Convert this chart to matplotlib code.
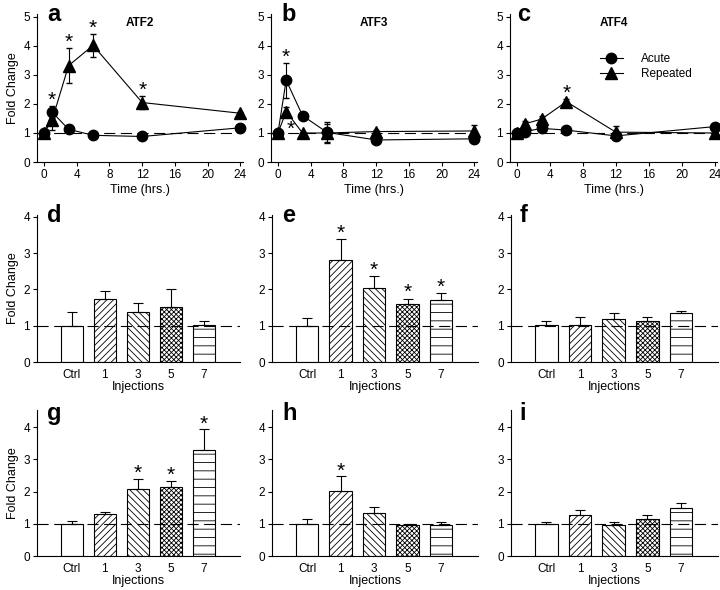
import numpy as np
import matplotlib
matplotlib.use("Agg")
import matplotlib.pyplot as plt
from matplotlib.lines import Line2D

plt.rcParams['font.family'] = ['Liberation Sans', 'DejaVu Sans']
plt.rcParams['hatch.linewidth'] = 0.6

# time course data (top row)
times = [0, 1, 3, 6, 12, 24]
time_genes = ["ATF2", "ATF3", "ATF4"]
acute_vals = [[1.0, 1.72, 1.13, 0.92, 0.88, 1.18],
              [1.0, 2.82, 1.60, 1.02, 0.76, 0.80],
              [1.0, 1.05, 1.16, 1.10, 0.90, 1.22]]
acute_err = [[0.05, 0.20, 0.08, 0.05, 0.05, 0.08],
             [0.05, 0.60, 0.08, 0.37, 0.05, 0.05],
             [0.05, 0.05, 0.10, 0.05, 0.08, 0.05]]
rep_vals = [[1.0, 1.45, 3.32, 4.02, 2.05, 1.68],
            [1.0, 1.74, 1.00, 1.00, 1.05, 1.07],
            [1.0, 1.32, 1.48, 2.08, 1.03, 1.00]]
rep_err = [[0.05, 0.35, 0.60, 0.40, 0.23, 0.05],
           [0.05, 0.15, 0.05, 0.30, 0.05, 0.20],
           [0.05, 0.10, 0.10, 0.08, 0.20, 0.05]]
# significant time points (indices into times)
acute_sig = [[1], [1], []]
rep_sig = [[2, 3, 4], [], [3]]

# injection data (middle and bottom rows)
inj_labels = ["Ctrl", "1", "3", "5", "7"]
bar_vals = [[1.0, 1.73, 1.39, 1.53, 1.02],
            [1.0, 2.80, 2.05, 1.61, 1.71],
            [1.03, 1.03, 1.19, 1.13, 1.34],
            [1.0, 1.29, 2.07, 2.14, 3.30],
            [1.0, 2.02, 1.33, 0.95, 0.97],
            [1.0, 1.27, 0.95, 1.16, 1.48]]
bar_err = [[0.37, 0.24, 0.25, 0.47, 0.12],
           [0.20, 0.59, 0.31, 0.13, 0.19],
           [0.11, 0.20, 0.17, 0.11, 0.08],
           [0.10, 0.09, 0.32, 0.20, 0.63],
           [0.15, 0.45, 0.18, 0.05, 0.07],
           [0.05, 0.16, 0.10, 0.12, 0.18]]
bar_sig = [[], [1, 2, 3, 4], [], [2, 3, 4], [1], []]
hatches = ["", "/////", "\\\\\\\\\\", "xxxxxxx", "--"]

fig = plt.figure(figsize=(7.2, 5.9), dpi=100)

top_pos = [[0.0514, 0.7254, 0.286, 0.2508],
           [0.3764, 0.7254, 0.286, 0.2508],
           [0.7083, 0.7254, 0.2875, 0.2508]]
mid_pos = [[0.0514, 0.3864, 0.282, 0.249],
           [0.3778, 0.3864, 0.286, 0.249],
           [0.7097, 0.3864, 0.2875, 0.249]]
bot_pos = [[0.0514, 0.0576, 0.282, 0.2475],
           [0.3778, 0.0576, 0.286, 0.2475],
           [0.7097, 0.0576, 0.2875, 0.2475]]


def style_axes(ax):
    ax.spines['top'].set_visible(False)
    ax.spines['right'].set_visible(False)
    for s in ['left', 'bottom']:
        ax.spines[s].set_linewidth(0.8)
    ax.tick_params(direction='out', length=3, width=0.8, labelsize=8.5, pad=2)


letters = "abcdefghi"
letter_x = [0.05, 0.053, 0.035]

# top row
for i in range(3):
    ax = fig.add_axes(top_pos[i])
    style_axes(ax)
    ax.axhline(1, color='k', lw=0.8, linestyle=(0, (10, 5)), zorder=1)
    ax.errorbar(times, acute_vals[i], yerr=acute_err[i], color='k', lw=0.8,
                marker='o', markersize=7.5, capsize=2, elinewidth=0.8,
                zorder=3, clip_on=False)
    ax.errorbar(times, rep_vals[i], yerr=rep_err[i], color='k', lw=0.8,
                marker='^', markersize=8, capsize=2, elinewidth=0.8,
                zorder=3, clip_on=False)
    for j in acute_sig[i]:
        ax.text(times[j], acute_vals[i][j] + acute_err[i][j] + 0.2, "*",
                ha='center', va='center', fontsize=15)
    for j in rep_sig[i]:
        ax.text(times[j], rep_vals[i][j] + rep_err[i][j] + 0.2, "*",
                ha='center', va='center', fontsize=15)
    if i == 1:
        # repeated 1h significance drawn below the point
        ax.text(1.5, rep_vals[1][1] - 0.6, "*", ha='center', va='center',
                fontsize=15)
    ax.set_xlim(-0.85, 24.3)
    ax.set_ylim(0, 5.1)
    ax.set_xticks([0, 4, 8, 12, 16, 20, 24])
    ax.set_yticks([0, 1, 2, 3, 4, 5])
    ax.set_xlabel("Time (hrs.)", fontsize=9, labelpad=2)
    if i == 0:
        ax.set_ylabel("Fold Change", fontsize=9, labelpad=3)
    ax.text(letter_x[i], 0.95, letters[i], transform=ax.transAxes,
            fontsize=17, fontweight='bold', va='baseline')
    ax.text(0.5, 0.92, time_genes[i], transform=ax.transAxes,
            fontsize=8.5, fontweight='bold', ha='center', va='baseline')
    if i == 2:
        handles = [Line2D([], [], color='k', lw=0.8, marker='o', markersize=7.5),
                   Line2D([], [], color='k', lw=0.8, marker='^', markersize=8)]
        ax.legend(handles, ["Acute", "Repeated"], loc='upper left',
                  bbox_to_anchor=(0.41, 0.77), frameon=False, fontsize=8.5,
                  handlelength=2.0, borderaxespad=0, labelspacing=0.25,
                  handletextpad=1.5)

# bar rows
x = np.arange(len(inj_labels))
for k in range(6):
    pos = mid_pos[k] if k < 3 else bot_pos[k - 3]
    ax = fig.add_axes(pos)
    style_axes(ax)
    ax.tick_params(axis='x', length=0, pad=5)
    vals = bar_vals[k]
    errs = bar_err[k]
    for j in range(len(x)):
        ax.bar(x[j], vals[j], width=0.67, color='white', edgecolor='k',
               linewidth=0.8, hatch=hatches[j], zorder=2)
    ax.errorbar(x, vals, yerr=[np.zeros(len(x)), errs], fmt='none',
                ecolor='k', elinewidth=0.8, capsize=3.5, capthick=0.8, zorder=2)
    ax.axhline(1, color='k', lw=0.8, linestyle=(0, (10, 5)), zorder=3)
    for j in bar_sig[k]:
        ax.text(x[j], vals[j] + errs[j] + 0.17, "*", ha='center', va='center',
                fontsize=15)
    ax.set_xlim(-1.05, 5.1)
    if k < 3:
        ax.set_ylim(0, 4.05)
    else:
        ax.set_ylim(0, 4.53)
    ax.set_yticks([0, 1, 2, 3, 4])
    ax.set_xticks(x)
    ax.set_xticklabels(inj_labels)
    ax.set_xlabel("Injections", fontsize=9, labelpad=0)
    if k % 3 == 0:
        ax.set_ylabel("Fold Change", fontsize=9, labelpad=3)
    lx = [0.05, 0.05, 0.04][k % 3]
    ly = 0.95 if k < 3 else 0.93
    ax.text(lx, ly, letters[k + 3], transform=ax.transAxes,
            fontsize=17, fontweight='bold', va='baseline')

fig.savefig("out.png", dpi=100)
